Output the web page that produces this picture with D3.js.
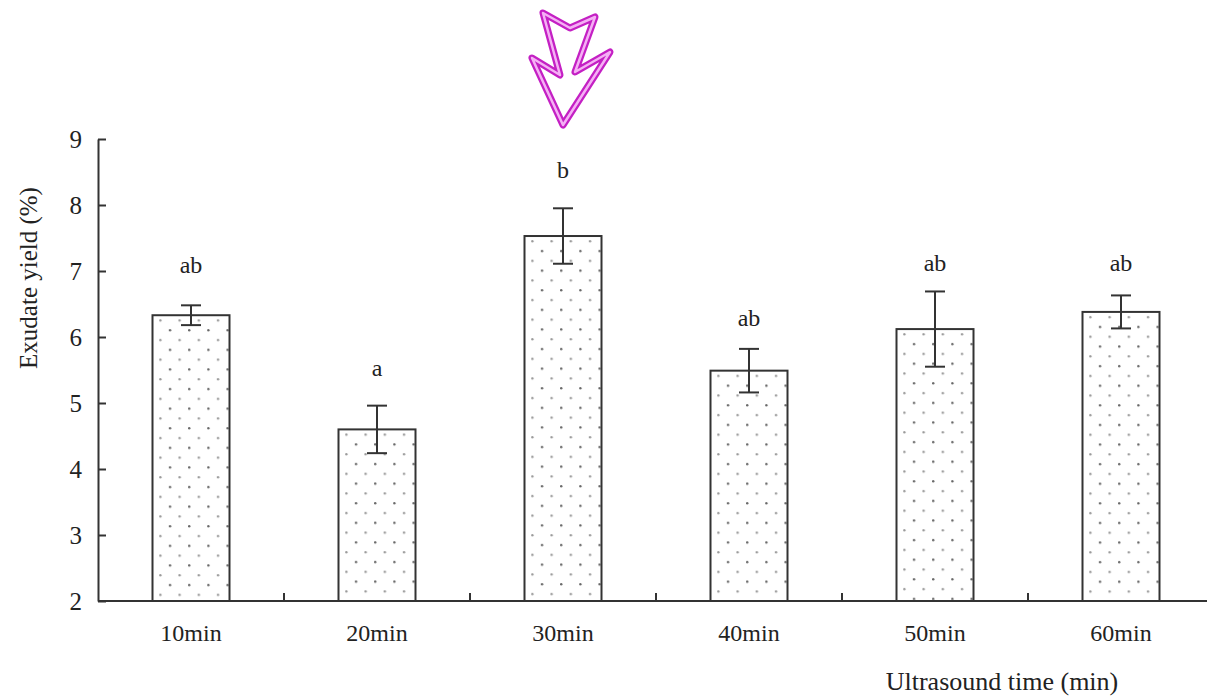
<!DOCTYPE html>
<html>
<head>
<meta charset="utf-8">
<script src="https://cdn.jsdelivr.net/npm/d3@7"></script>
<style>
  body { margin: 0; background: #fff; }
  text { font-family: "Liberation Serif", "Times New Roman", serif; fill: #222; }
</style>
</head>
<body>
<div id="chart"></div>
<script>
// data
const categories = ["10min", "20min", "30min", "40min", "50min", "60min"];
const means = [6.33, 4.60, 7.53, 5.49, 6.12, 6.38];
const errors = [0.15, 0.36, 0.42, 0.33, 0.57, 0.25];
const letters = ["ab", "a", "b", "ab", "ab", "ab"];
const letterLevels = [6.97, 5.41, 8.41, 6.17, 7.0, 7.0];
const yTicks = [2, 3, 4, 5, 6, 7, 8, 9];

const width = 1207, height = 698;
const plotLeft = 98, plotBottom = 601, plotTop = 139;

const svg = d3.select("#chart").append("svg")
  .attr("width", width)
  .attr("height", height);

const x = d3.scaleBand().domain(categories).range([plotLeft, plotLeft + 6 * 186]).padding(0);
const y = d3.scaleLinear().domain([2, 9]).range([plotBottom, plotTop]);
const barW = 77;

// dotted fill, one pattern per bar so the dots line up with each bar
const defs = svg.append("defs");
categories.forEach((c, i) => {
  const p = defs.append("pattern")
    .attr("id", "dots" + i)
    .attr("patternUnits", "userSpaceOnUse")
    .attr("x", x(c) + x.bandwidth() / 2 - barW / 2 + 6.7)
    .attr("y", y(means[i]) + 4)
    .attr("width", 19.2)
    .attr("height", 19.6);
  p.append("circle").attr("cx", 1.2).attr("cy", 1.2).attr("r", 1.2).attr("fill", "#999");
  p.append("circle").attr("cx", 10.8).attr("cy", 11).attr("r", 1.2).attr("fill", "#666");
});

// bars
svg.selectAll("rect.bar")
  .data(categories)
  .enter().append("rect")
  .attr("class", "bar")
  .attr("x", d => x(d) + x.bandwidth() / 2 - barW / 2)
  .attr("y", (d, i) => y(means[i]))
  .attr("width", barW)
  .attr("height", (d, i) => plotBottom - y(means[i]))
  .attr("fill", (d, i) => `url(#dots${i})`)
  .attr("stroke", "#333")
  .attr("stroke-width", 2);

// error bars
const eb = svg.selectAll("g.err")
  .data(categories)
  .enter().append("g")
  .attr("class", "err")
  .attr("stroke", "#333")
  .attr("stroke-width", 2);
eb.append("line")
  .attr("x1", d => x(d) + x.bandwidth() / 2)
  .attr("x2", d => x(d) + x.bandwidth() / 2)
  .attr("y1", (d, i) => y(means[i] + errors[i]))
  .attr("y2", (d, i) => y(means[i] - errors[i]));
[1, -1].forEach(s => {
  eb.append("line")
    .attr("x1", d => x(d) + x.bandwidth() / 2 - 10)
    .attr("x2", d => x(d) + x.bandwidth() / 2 + 10)
    .attr("y1", (d, i) => y(means[i] + s * errors[i]))
    .attr("y2", (d, i) => y(means[i] + s * errors[i]));
});

// significance letters
svg.selectAll("text.letter")
  .data(categories)
  .enter().append("text")
  .attr("class", "letter")
  .attr("x", d => x(d) + x.bandwidth() / 2)
  .attr("y", (d, i) => y(letterLevels[i]))
  .attr("text-anchor", "middle")
  .attr("font-size", 24)
  .text((d, i) => letters[i]);

// y axis
const yAxis = svg.append("g")
  .attr("transform", `translate(${plotLeft},0)`)
  .call(d3.axisLeft(y).tickValues(yTicks).tickFormat(d3.format("d"))
    .tickSizeInner(-8).tickSizeOuter(0).tickPadding(16));
yAxis.select(".domain").attr("stroke", "#333").attr("stroke-width", 2);
yAxis.selectAll(".tick line").attr("stroke", "#333").attr("stroke-width", 2);
yAxis.selectAll(".tick text")
  .attr("font-family", "Liberation Serif")
  .attr("font-size", 25)
  .attr("fill", "#222");

// x axis: baseline with ticks at the band boundaries
svg.append("line")
  .attr("x1", plotLeft).attr("x2", width)
  .attr("y1", plotBottom).attr("y2", plotBottom)
  .attr("stroke", "#333").attr("stroke-width", 2);
svg.selectAll("line.xtick")
  .data(categories)
  .enter().append("line")
  .attr("class", "xtick")
  .attr("x1", d => x(d) + x.bandwidth())
  .attr("x2", d => x(d) + x.bandwidth())
  .attr("y1", plotBottom).attr("y2", plotBottom - 8)
  .attr("stroke", "#333").attr("stroke-width", 2);
svg.selectAll("text.xlab")
  .data(categories)
  .enter().append("text")
  .attr("class", "xlab")
  .attr("x", d => x(d) + x.bandwidth() / 2)
  .attr("y", 641)
  .attr("text-anchor", "middle")
  .attr("font-size", 24)
  .text(d => d);

// axis titles
svg.append("text")
  .attr("transform", `translate(37,278) rotate(-90)`)
  .attr("text-anchor", "middle")
  .attr("font-size", 25)
  .text("Exudate yield (%)");
svg.append("text")
  .attr("x", 1002)
  .attr("y", 690)
  .attr("text-anchor", "middle")
  .attr("font-size", 26)
  .text("Ultrasound time (min)");

// magenta arrow pointing at the 30min bar
const cx = x("30min") + x.bandwidth() / 2;
const arrowPts = [[-20, 13], [7, 28], [32, 17], [12, 72], [47, 52], [0, 125], [-31, 58], [-3, 75]];
const arrowPath = d3.line()(arrowPts.map(p => [cx + p[0], p[1]])) + "Z";
svg.append("path")
  .attr("d", arrowPath)
  .attr("fill", "none")
  .attr("stroke", "#c420c4")
  .attr("stroke-width", 7)
  .attr("stroke-linejoin", "round");
svg.append("path")
  .attr("d", arrowPath)
  .attr("fill", "none")
  .attr("stroke", "#f5b0f5")
  .attr("stroke-width", 2.5)
  .attr("stroke-linejoin", "round");
</script>
</body>
</html>
